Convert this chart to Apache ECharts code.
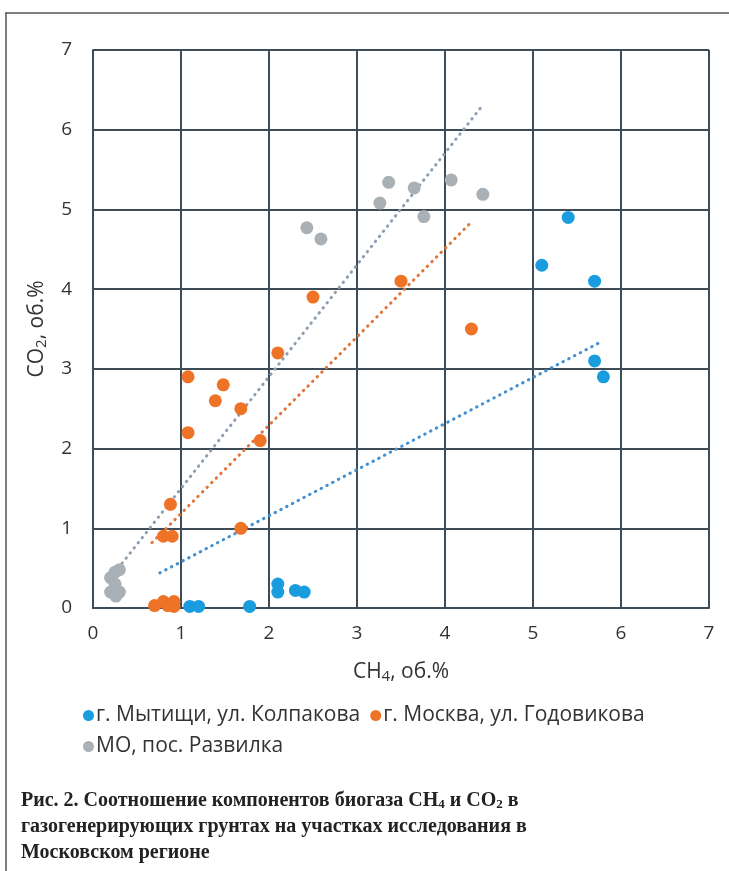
<!DOCTYPE html>
<html>
<head>
<meta charset="utf-8">
<script src="https://cdn.jsdelivr.net/npm/echarts@6/dist/echarts.min.js"></script>
<style>html,body{margin:0;padding:0;background:#fff}#c{width:729px;height:871px}</style>
</head>
<body>
<div id="c"></div>
<script>
// Series names
const nameBlue = 'г. Мытищи, ул. Колпакова';
const nameOrange = 'г. Москва, ул. Годовикова';
const nameGray = 'МО, пос. Развилка';

// Data points [CH4, CO2]
const blueData = [
  [5.4, 4.9], [5.1, 4.3], [5.7, 4.1], [5.7, 3.1], [5.8, 2.9],
  [2.1, 0.3], [2.1, 0.2], [2.3, 0.22], [2.4, 0.2],
  [1.78, 0.02], [1.1, 0.02], [1.2, 0.02]
];
const orangeData = [
  [2.5, 3.9], [3.5, 4.1], [4.3, 3.5], [2.1, 3.2],
  [1.08, 2.9], [1.48, 2.8], [1.39, 2.6], [1.68, 2.5],
  [1.08, 2.2], [1.9, 2.1], [0.88, 1.3], [0.8, 0.9], [0.9, 0.9],
  [1.68, 1.0], [0.7, 0.03], [0.8, 0.08], [0.85, 0.03], [0.92, 0.08], [0.92, 0.02]
];
const grayData = [
  [3.36, 5.34], [4.07, 5.37], [3.65, 5.27], [3.26, 5.08], [4.43, 5.19],
  [3.76, 4.91], [2.43, 4.77], [2.59, 4.63],
  [0.3, 0.48], [0.25, 0.45], [0.2, 0.38], [0.25, 0.3], [0.2, 0.2], [0.26, 0.15], [0.3, 0.2]
];

// Linear trend lines (endpoints)
const blueTrend = [[0.76, 0.44], [5.74, 3.32]];
const orangeTrend = [[0.67, 0.82], [4.28, 4.82]];
const grayTrend = [[0.33, 0.56], [4.43, 6.31]];

// Axis ticks
const axisMin = 0, axisMax = 7, axisStep = 1;

const cBlue = '#1a9ddf', cOrange = '#ee7327', cGray = '#a9b1b6';
const gridColor = '#3e4c57';
const font = 'Open Sans';
const txt = '#333';

const chart = echarts.init(document.getElementById('c'));
function trend(data, color) {
  return {
    type: 'line', data: data, symbol: 'none', silent: true, z: 1,
    lineStyle: { color: color, width: 3, type: [0.5, 6], cap: 'round' }
  };
}
const nameRich = {
  a: { fontFamily: font, fontSize: 21, color: txt },
  s: { fontFamily: font, fontSize: 15, color: txt, verticalAlign: 'bottom', padding: [9, 0, 0, 0] }
};
chart.setOption({
  animation: false,
  backgroundColor: '#fff',
  grid: { left: 93, top: 50, right: 20, bottom: 263 },
  xAxis: {
    type: 'value', min: axisMin, max: axisMax, interval: axisStep,
    axisLine: { show: true, lineStyle: { color: gridColor, width: 2 } },
    axisTick: { show: false },
    splitLine: { show: true, lineStyle: { color: gridColor, width: 2 } },
    axisLabel: { fontFamily: font, fontSize: 19, color: txt, margin: 16 },
    name: '{a|CH}{s|4}{a|, об.%}', nameLocation: 'middle', nameGap: 52,
    nameTextStyle: { rich: nameRich }
  },
  yAxis: {
    type: 'value', min: axisMin, max: axisMax, interval: axisStep,
    axisLine: { show: true, lineStyle: { color: gridColor, width: 2 } },
    axisTick: { show: false },
    splitLine: { show: true, lineStyle: { color: gridColor, width: 2 } },
    axisLabel: { fontFamily: font, fontSize: 19, color: txt, margin: 21 },
    name: '{a|CO}{s|2}{a|, об.%}', nameLocation: 'middle', nameGap: 44, nameRotate: 90,
    nameTextStyle: { rich: nameRich }
  },
  legend: [
    {
      data: [nameBlue, nameOrange], left: 78, top: 700, icon: 'circle',
      itemWidth: 11, itemHeight: 11, itemGap: 10,
      textStyle: { fontFamily: font, fontSize: 21, color: txt, padding: [0, 0, 0, -3] }
    },
    {
      data: [nameGray], left: 78, top: 731, icon: 'circle',
      itemWidth: 11, itemHeight: 11, itemGap: 10,
      textStyle: { fontFamily: font, fontSize: 21, color: txt, padding: [0, 0, 0, -3] }
    }
  ],
  series: [
    trend(blueTrend, '#3f8fd2'),
    trend(orangeTrend, '#e0743a'),
    trend(grayTrend, '#8c9fb2'),
    { name: nameBlue, type: 'scatter', data: blueData, symbolSize: 13, z: 3, itemStyle: { color: cBlue, opacity: 1 } },
    { name: nameOrange, type: 'scatter', data: orangeData, symbolSize: 13, z: 3, itemStyle: { color: cOrange, opacity: 1 } },
    { name: nameGray, type: 'scatter', data: grayData, symbolSize: 13, z: 3, itemStyle: { color: cGray, opacity: 1 } }
  ],
  graphic: [
    { type: 'line', shape: { x1: 5, y1: 13, x2: 729, y2: 13 }, style: { stroke: '#555', lineWidth: 1.5 } },
    { type: 'line', shape: { x1: 6, y1: 13, x2: 6, y2: 871 }, style: { stroke: '#555', lineWidth: 1.5 } },
    {
      type: 'text', left: 21, top: 790,
      style: {
        text: '{b|Рис. 2. Соотношение компонентов биогаза CH}{s|4}{b| и CO}{s|2}{b| в}\n{b|газогенерирующих грунтах на участках исследования в}\n{b|Московском регионе}',
        rich: {
          b: { fontFamily: 'Liberation Serif', fontWeight: 'bold', fontSize: 20, fill: '#222', lineHeight: 26 },
          s: { fontFamily: 'Liberation Serif', fontWeight: 'bold', fontSize: 13, fill: '#222', lineHeight: 26, padding: [8, 0, 0, 0] }
        }
      }
    }
  ]
});
</script>
</body>
</html>
